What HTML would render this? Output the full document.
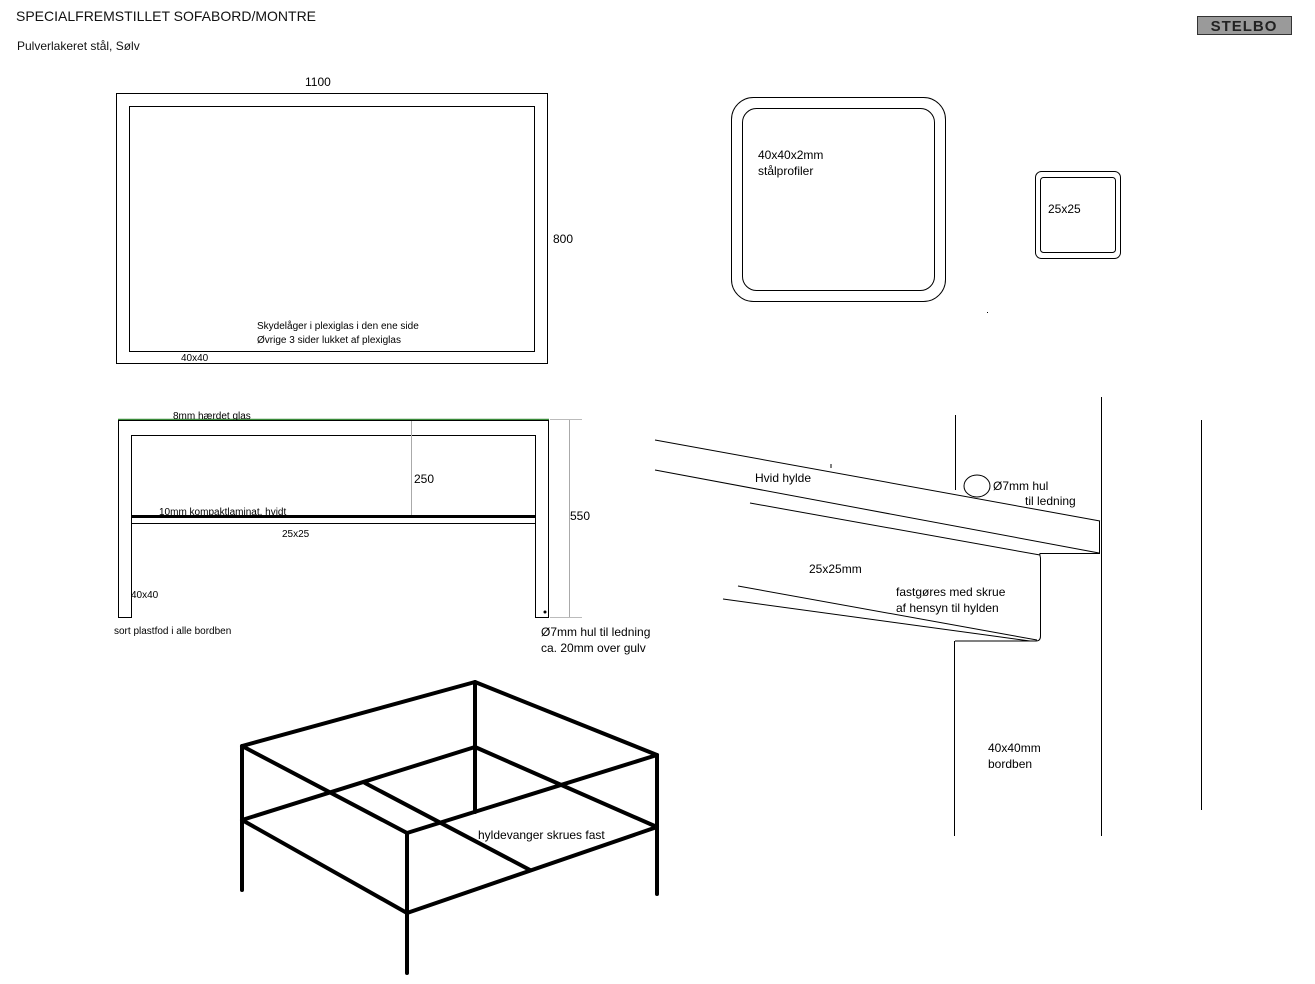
<!DOCTYPE html>
<html><head><meta charset="utf-8"><style>
html,body{margin:0;padding:0;background:#fff;}
svg{display:block;font-family:"Liberation Sans",Arial,sans-serif;}
</style></head><body>
<svg width="1315" height="984" viewBox="0 0 1315 984" xmlns="http://www.w3.org/2000/svg">
<rect width="1315" height="984" fill="#fff"/>
<text x="16" y="21" font-size="14" fill="#111">SPECIALFREMSTILLET SOFABORD/MONTRE</text>
<text x="17" y="50" font-size="12" fill="#111">Pulverlakeret stål, Sølv</text>
<rect x="1197.5" y="16.5" width="94" height="18" fill="#9a9a9a" stroke="#333"/>
<text x="1244" y="31" font-size="15" font-weight="bold" text-anchor="middle" fill="#222" letter-spacing="1">STELBO</text>

<g fill="none" stroke="#000" stroke-width="1">
<rect x="116.5" y="93.5" width="431" height="270"/>
<rect x="129.5" y="106.5" width="405" height="245"/>
<rect x="731.5" y="97.5" width="214" height="204" rx="22"/>
<rect x="742.5" y="108.5" width="192" height="182" rx="14"/>
<rect x="1035.5" y="171.5" width="85" height="87" rx="6"/>
<rect x="1040.5" y="177.5" width="75" height="75" rx="3"/>
</g>
<text x="305" y="86" font-size="12">1100</text>
<text x="553" y="243" font-size="12">800</text>
<text x="257" y="329" font-size="10">Skydelåger i plexiglas i den ene side</text>
<text x="257" y="343" font-size="10">Øvrige 3 sider lukket af plexiglas</text>
<text x="181" y="361" font-size="10">40x40</text>
<text x="758" y="159" font-size="12">40x40x2mm</text>
<text x="758" y="175" font-size="12">stålprofiler</text>
<text x="1048" y="213" font-size="12">25x25</text>
<rect x="987" y="312" width="1" height="1" fill="#000"/>

<!-- side view -->
<line x1="118" y1="419.5" x2="549" y2="419.5" stroke="#3a8a3a" stroke-width="1.5"/>
<path d="M118.5 617.5 V420.5 H548.5 V617.5 H535.5 V435.5 H131.5 V617.5 Z" fill="none" stroke="#000"/>
<line x1="411.5" y1="421" x2="411.5" y2="515" stroke="#aaa"/>
<line x1="569.5" y1="419" x2="569.5" y2="617" stroke="#aaa"/>
<line x1="550" y1="419.5" x2="582" y2="419.5" stroke="#bbb"/>
<line x1="550" y1="617.5" x2="582" y2="617.5" stroke="#bbb"/>
<rect x="131.5" y="515.5" width="404" height="8" fill="none" stroke="#000"/>
<line x1="131" y1="517" x2="536" y2="517" stroke="#000" stroke-width="2"/>
<circle cx="545" cy="612" r="1.5" fill="#000"/>
<text x="173" y="419" font-size="10">8mm hærdet glas</text>
<text x="414" y="483" font-size="12">250</text>
<text x="159" y="515" font-size="10">10mm kompaktlaminat, hvidt</text>
<text x="282" y="537" font-size="10">25x25</text>
<text x="570" y="520" font-size="12">550</text>
<text x="131" y="598" font-size="10">40x40</text>
<text x="114" y="634" font-size="10">sort plastfod i alle bordben</text>
<text x="541" y="636" font-size="12">Ø7mm hul til ledning</text>
<text x="541" y="652" font-size="12">ca. 20mm over gulv</text>

<!-- detail -->
<g fill="none" stroke="#000" stroke-width="1">
<line x1="655" y1="440" x2="1100" y2="521"/>
<line x1="655" y1="470" x2="1099" y2="553"/>
<line x1="750" y1="503" x2="1040" y2="555"/>
<line x1="738" y1="586" x2="1037" y2="640"/>
<line x1="723" y1="599" x2="1030" y2="641"/>
<path d="M1099.5 521 V553.5 H1040 Q1039.5 553.5 1040.5 558 V636 Q1040.5 641 1036 641 H955"/>
<line x1="955.5" y1="415" x2="955.5" y2="490"/>
<line x1="954.5" y1="641" x2="954.5" y2="836"/>
<line x1="1101.5" y1="397" x2="1101.5" y2="836"/>
<line x1="1201.5" y1="420" x2="1201.5" y2="810"/>
<ellipse cx="977" cy="486" rx="13" ry="11"/>
<line x1="831" y1="464" x2="831" y2="468"/>
</g>
<text x="755" y="482" font-size="12">Hvid hylde</text>
<text x="993" y="490" font-size="12">Ø7mm hul</text>
<text x="1025" y="505" font-size="12">til ledning</text>
<text x="809" y="573" font-size="12">25x25mm</text>
<text x="896" y="596" font-size="12">fastgøres med skrue</text>
<text x="896" y="612" font-size="12">af hensyn til hylden</text>
<text x="988" y="752" font-size="12">40x40mm</text>
<text x="988" y="768" font-size="12">bordben</text>

<!-- perspective frame -->
<g fill="none" stroke="#000" stroke-width="4" stroke-linecap="round" stroke-linejoin="round">
<path d="M242 746 L475 682 L657 755 L407 833 Z"/>
<path d="M242 820 L475 747 L657 827 L407 913 Z"/>
<line x1="365" y1="783" x2="530" y2="870"/>
<line x1="242" y1="746" x2="242" y2="890"/>
<line x1="475" y1="682" x2="475" y2="812"/>
<line x1="657" y1="755" x2="657" y2="894"/>
<line x1="407" y1="833" x2="407" y2="973"/>
</g>
<text x="478" y="839" font-size="12">hyldevanger skrues fast</text>
</svg>
</body></html>
